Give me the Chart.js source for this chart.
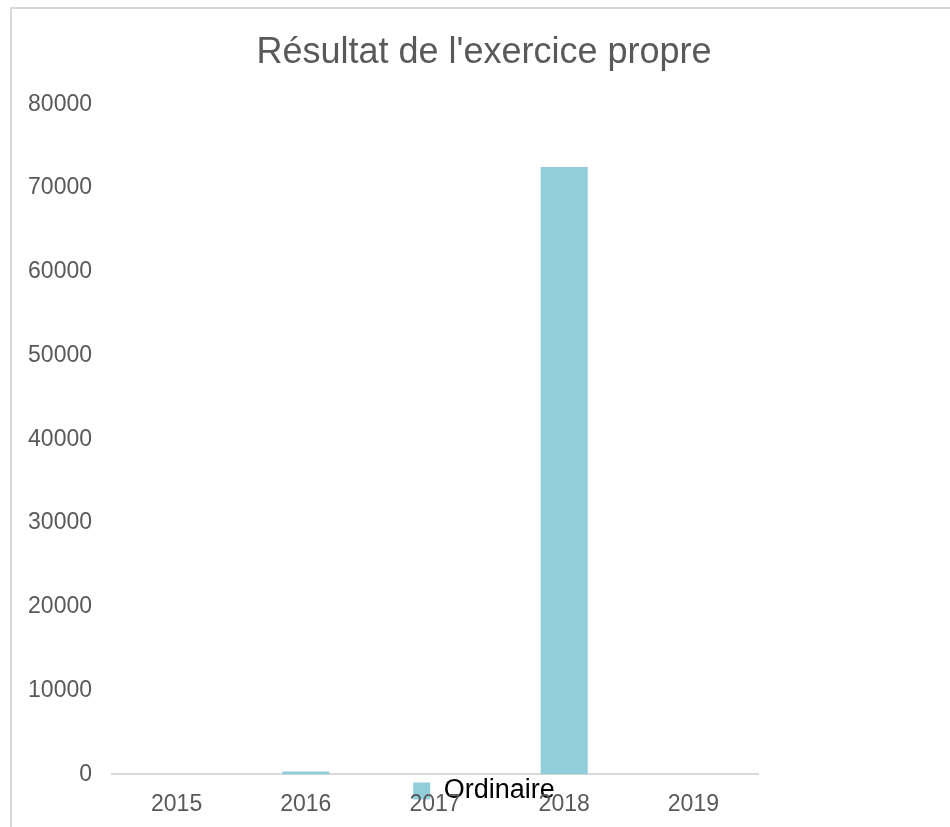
<!DOCTYPE html>
<html>
<head>
<meta charset="utf-8">
<script src="https://cdn.jsdelivr.net/npm/chart.js@4/dist/chart.umd.min.js"></script>
<style>
  html, body { margin: 0; padding: 0; background: #fff; overflow: hidden; }
  #frame {
    position: absolute; left: 10px; top: 7px; width: 960px; height: 840px;
    border-top: 2px solid #d9d9d9; border-left: 2px solid #d9d9d9;
  }
  #wrap { position: absolute; left: 0; top: 0; width: 950px; height: 881px; }
</style>
</head>
<body>
<div id="frame"></div>
<div id="wrap"><canvas id="chart"></canvas></div>
<script>
const years = ['2015', '2016', '2017', '2018', '2019'];
const ordinaire = [0, 350, 0, 72500, 0];
const seriesName = 'Ordinaire';
const chartTitle = "Résultat de l'exercice propre";

// legend sits over the x labels in the original, so pull it up after layout
const liftLegend = {
  id: 'liftLegend',
  afterLayout(chart) {
    const l = chart.legend;
    const h = l.bottom - l.top;
    l.top = chart.chartArea.bottom - 7;
    l.bottom = l.top + h;
  }
};

const ctx = document.getElementById('chart').getContext('2d');
new Chart(ctx, {
  type: 'bar',
  data: {
    labels: years,
    datasets: [{
      label: seriesName,
      data: ordinaire,
      backgroundColor: '#92cddc',
      borderWidth: 0
    }]
  },
  options: {
    responsive: true,
    maintainAspectRatio: false,
    animation: false,
    barPercentage: 0.364,
    categoryPercentage: 1,
    layout: {
      padding: { left: 18, right: 0, top: 0, bottom: 0 }
    },
    scales: {
      x: {
        grid: { display: false, drawTicks: false },
        border: { display: true, color: '#d9d9d9', width: 2 },
        ticks: {
          color: '#595959',
          padding: 16,
          font: { family: 'Liberation Sans', size: 23 }
        }
      },
      y: {
        min: 0,
        max: 80000,
        grid: { display: false, drawTicks: false },
        border: { display: false },
        afterFit: (s) => { s.width = 94; },
        ticks: {
          stepSize: 10000,
          color: '#595959',
          padding: 20,
          font: { family: 'Liberation Sans', size: 23 },
          callback: (v) => String(v)
        }
      },
      // empty right-hand axis, only keeps the blank strip right of the plot
      yRight: {
        position: 'right',
        grid: { display: false, drawTicks: false },
        border: { display: false },
        ticks: { display: false },
        afterFit: (s) => { s.width = 192; }
      }
    },
    plugins: {
      title: {
        display: true,
        text: chartTitle,
        color: '#595959',
        font: { family: 'Liberation Sans', size: 36, weight: 'normal' },
        padding: { top: 31, bottom: 30 }
      },
      legend: {
        position: 'bottom',
        labels: {
          color: '#000',
          boxWidth: 17,
          boxHeight: 17,
          padding: 10,
          font: { family: 'Liberation Sans', size: 27 }
        }
      },
      tooltip: { enabled: false }
    }
  },
  plugins: [liftLegend]
});
</script>
</body>
</html>
